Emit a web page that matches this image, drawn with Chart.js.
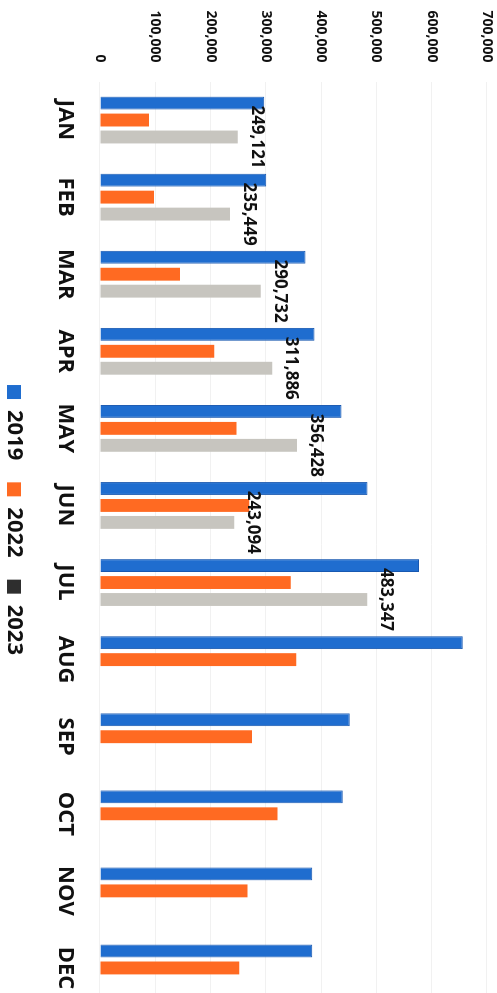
<!DOCTYPE html>
<html>
<head>
<meta charset="utf-8">
<script src="https://cdn.jsdelivr.net/npm/chart.js@4.4.1/dist/chart.umd.min.js"></script>
<style>
  html, body { margin: 0; padding: 0; width: 497px; height: 993px; overflow: hidden; background: #fff; }
  /* chart is drawn landscape, then turned a quarter clockwise like the scan */
  #wrap {
    position: absolute; left: 0; top: 0;
    width: 1040px; height: 497px;
    transform-origin: 0 0;
    transform: translate(497px, 0) rotate(90deg);
  }
</style>
</head>
<body>
<div id="wrap"><canvas id="sales-chart" width="1040" height="497"></canvas></div>
<script>
// ==================== DATA ====================
const months = ['JAN', 'FEB', 'MAR', 'APR', 'MAY', 'JUN', 'JUL', 'AUG', 'SEP', 'OCT', 'NOV', 'DEC'];
const sales2019 = [297000, 301000, 372000, 388000, 437000, 484000, 577000, 656000, 452000, 439000, 384000, 384000];
const sales2022 = [89000, 98000, 145000, 207000, 247000, 270000, 345000, 355000, 275000, 321000, 267000, 252000];
const sales2023 = [249121, 235449, 290732, 311886, 356428, 243094, 483347, null, null, null, null, null];
const yTicks = [0, 100000, 200000, 300000, 400000, 500000, 600000, 700000];

const FONT = '"Open Sans", "DejaVu Sans", sans-serif';

// labels above the 2023 bars
const barLabels = {
  id: 'barLabels',
  afterDatasetsDraw(chart) {
    const meta = chart.getDatasetMeta(2);
    const ctx = chart.ctx;
    ctx.save();
    ctx.font = `bold 17px ${FONT}`;
    ctx.fillStyle = '#111';
    ctx.textAlign = 'center';
    ctx.textBaseline = 'alphabetic';
    meta.data.forEach((bar, i) => {
      const v = sales2023[i];
      if (v == null) return;
      ctx.fillText(v.toLocaleString('en-US'), bar.x, bar.y - 14);
    });
    ctx.restore();
  }
};

// nudge the legend a bit along, it is not centred on the canvas in the scan
const legendShift = {
  id: 'legendShift',
  afterLayout(chart) {
    if (!chart.legend) return;
    chart.legend.left += 12.75;
    chart.legend.right += 12.75;
  }
};

new Chart(document.getElementById('sales-chart'), {
  type: 'bar',
  data: {
    labels: months,
    datasets: [
      { label: '2019', data: sales2019, backgroundColor: '#1f6dcf', borderColor: '#1858b0', borderWidth: 1, borderSkipped: 'bottom' },
      { label: '2022', data: sales2022, backgroundColor: '#ff6a22', borderWidth: 0 },
      { label: '2023', data: sales2023, backgroundColor: '#c7c5bf', borderWidth: 0 }
    ]
  },
  options: {
    responsive: false,
    animation: false,
    devicePixelRatio: 1,
    datasets: { bar: { categoryPercentage: 0.66, barPercentage: 0.76 } },
    layout: { padding: { left: 8, right: 33.5, top: 10, bottom: -7 } },
    plugins: {
      tooltip: { enabled: false },
      legend: {
        position: 'bottom',
        labels: {
          color: '#111',
          font: { family: FONT, size: 22, weight: 'bold' },
          boxWidth: 14,
          boxHeight: 14,
          padding: 22,
          generateLabels: (chart) => {
            const items = Chart.defaults.plugins.legend.labels.generateLabels(chart);
            items.forEach(it => { it.lineWidth = 0; });
            if (items[2]) { items[2].fillStyle = '#2e2e2e'; }
            return items;
          }
        }
      }
    },
    scales: {
      x: {
        grid: { display: false },
        border: { display: false },
        afterFit: (scale) => { scale.height -= 8.5; },
        ticks: { color: '#111', padding: 13.5, font: { family: FONT, size: 22, weight: 'bold' } }
      },
      y: {
        min: 0,
        max: yTicks[yTicks.length - 1],
        afterBuildTicks: (scale) => { scale.ticks = yTicks.map(v => ({ value: v })); },
        afterFit: (scale) => {
          scale.width = 73.5;
          scale.paddingTop = 0;
          scale.paddingBottom = 0;
        },
        grid: { color: '#f1f1f1', drawTicks: false },
        border: { display: false },
        ticks: {
          color: '#111',
          padding: 19,
          font: { family: FONT, size: 14, weight: 'bold' },
          callback: (v) => v.toLocaleString('en-US')
        }
      }
    }
  },
  plugins: [barLabels, legendShift]
});
</script>
</body>
</html>
